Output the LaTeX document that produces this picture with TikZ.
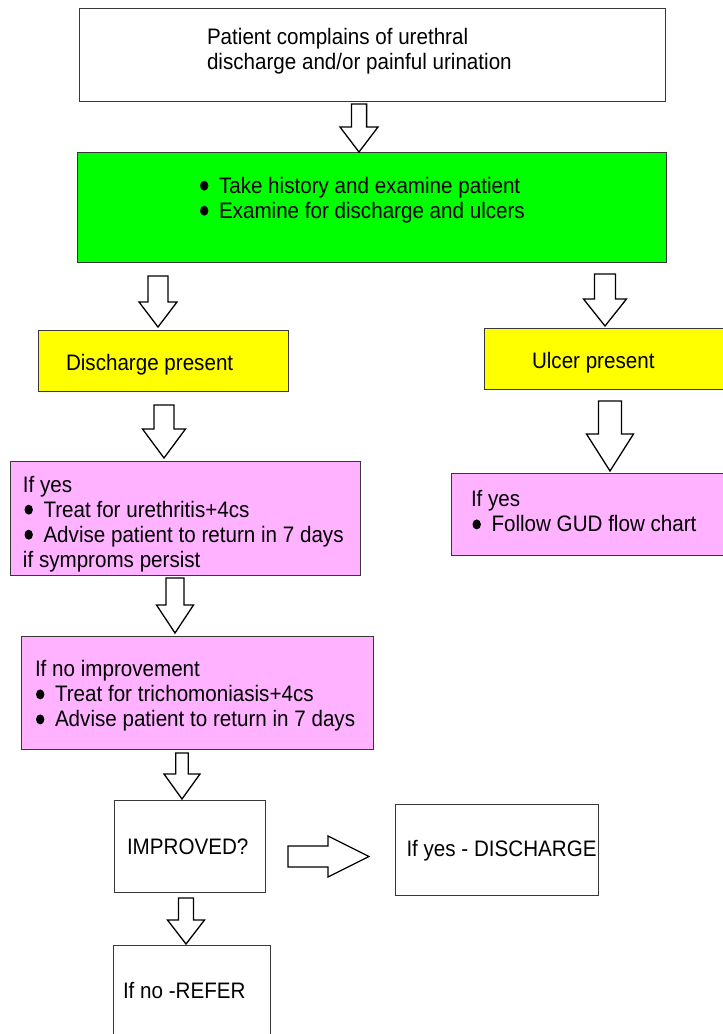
\documentclass[tikz,border=0pt]{standalone}
\usepackage{fontspec}
\setmainfont{Liberation Sans}[FakeStretch=0.92]
\usetikzlibrary{calc}

\definecolor{boxgreen}{RGB}{0,255,0}
\definecolor{boxyellow}{RGB}{255,255,0}
\definecolor{boxpink}{RGB}{255,178,255}
\definecolor{edge}{RGB}{55,55,55}

% round bullet used in the item lines
\newcommand\bul{\tikz[baseline=0pt]\fill (0pt,7.3pt) ellipse [x radius=4.2pt,y radius=5pt];\hspace{10.6pt}}

% hollow block arrow pointing down
% #1 source, #2 target, #3 x, #4 top gap, #5 bottom gap, #6 shaft half width, #7 head half width, #8 head length
\newcommand\arrowdown[8]{%
  \coordinate (ad-a) at (#3,0 |- #1.south);
  \coordinate (ad-b) at (#3,0 |- #2.north);
  \draw[blockarrow]
    ([xshift=-#6pt,yshift=-#4pt]ad-a) -- ([xshift=#6pt,yshift=-#4pt]ad-a)
    -- ([xshift=#6pt,yshift=#5pt+#8pt]ad-b) -- ([xshift=#7pt,yshift=#5pt+#8pt]ad-b)
    -- ([yshift=#5pt]ad-b) -- ([xshift=-#7pt,yshift=#5pt+#8pt]ad-b)
    -- ([xshift=-#6pt,yshift=#5pt+#8pt]ad-b) -- cycle;
}
% hollow block arrow pointing right
% #1 source, #2 target, #3 y, #4 left gap, #5 right gap, #6 shaft half width, #7 head half width, #8 head length
\newcommand\arrowright[8]{%
  \coordinate (ar-a) at (#1.east |- 0,#3);
  \coordinate (ar-b) at (#2.west |- 0,#3);
  \draw[blockarrow]
    ([xshift=#4pt,yshift=#6pt]ar-a) -- ([xshift=#4pt,yshift=-#6pt]ar-a)
    -- ([xshift=-#5pt-#8pt,yshift=-#6pt]ar-b) -- ([xshift=-#5pt-#8pt,yshift=-#7pt]ar-b)
    -- ([xshift=-#5pt]ar-b) -- ([xshift=-#5pt-#8pt,yshift=#7pt]ar-b)
    -- ([xshift=-#5pt-#8pt,yshift=#6pt]ar-b) -- cycle;
}

\begin{document}
\begin{tikzpicture}[x=1pt,y=-1pt,
  box/.style={draw=edge,line width=1pt,inner sep=0pt,outer sep=0pt},
  txt/.style={anchor=base west,inner sep=0pt,outer sep=0pt,font=\fontsize{22.4}{25}\selectfont},
  blockarrow/.style={draw=black,fill=white,line width=1.3pt,line join=miter}]
\fill[white] (0,0) rectangle (723,1034);
\clip (0,0) rectangle (723,1034);

% boxes
\node[box,fill=white,minimum width=586pt,minimum height=93pt] (b1) at (372,54.5) {};
\node[box,fill=boxgreen,minimum width=589pt,minimum height=110pt] (b2) at (371.5,207) {};
\node[box,fill=boxyellow,minimum width=250pt,minimum height=61pt] (b3) at (163,360.5) {};
\node[box,fill=boxyellow,minimum width=256pt,minimum height=61pt] (b4) at (612,358.5) {};
\node[box,fill=boxpink,minimum width=350pt,minimum height=114pt] (b5) at (185,518) {};
\node[box,fill=boxpink,minimum width=289pt,minimum height=82pt] (b6) at (595.5,514) {};
\node[box,fill=boxpink,minimum width=352pt,minimum height=113pt] (b7) at (197,692.5) {};
\node[box,fill=white,minimum width=151pt,minimum height=92pt] (b8) at (189.5,846) {};
\node[box,fill=white,minimum width=203pt,minimum height=91pt] (b9) at (496.5,849.5) {};
\node[box,fill=white,minimum width=157pt,minimum height=100pt] (b10) at (191.5,995) {};

% texts
\node[txt] (t1a) at (207,44) {Patient complains of urethral};
\node[txt] (t1b) at (207,69) {discharge and/or painful urination};
\node[txt] (t2a) at (200,193) {\bul Take history and examine patient};
\node[txt] (t2b) at (200,218) {\bul Examine for discharge and ulcers};
\node[txt] (t3) at (66,370) {Discharge present};
\node[txt] (t4) at (532,368.3) {Ulcer present};
\node[txt] (t5a) at (23,492) {If yes};
\node[txt] (t5b) at (24.5,517) {\bul Treat for urethritis+4cs};
\node[txt] (t5c) at (24.5,542) {\bul Advise patient to return in 7 days};
\node[txt] (t5d) at (23,567) {if symproms persist};
\node[txt] (t6a) at (471,506.7) {If yes};
\node[txt] (t6b) at (472.5,531.7) {\bul Follow GUD flow chart};
\node[txt] (t7a) at (35,676.7) {If no improvement};
\node[txt] (t7b) at (36,701.7) {\bul Treat for trichomoniasis+4cs};
\node[txt] (t7c) at (36,726.7) {\bul Advise patient to return in 7 days};
\node[txt] (t8) at (127,854.3) {IMPROVED?};
\node[txt] (t9) at (406.5,856.7) {If yes - DISCHARGE};
\node[txt] (t10) at (123,998.3) {If no -REFER};

% arrows
\arrowdown{b1}{b2}{359}{3}{0}{7.6}{19}{25}
\arrowdown{b2}{b3}{158}{14}{3}{10}{19}{25}
\arrowdown{b2}{b4}{605}{12}{2}{10.5}{21.5}{27}
\arrowdown{b3}{b5}{164}{14}{3}{10}{21.5}{29}
\arrowdown{b4}{b6}{610}{12}{2}{11.5}{23.5}{37}
\arrowdown{b5}{b7}{175}{3}{3}{9}{18.5}{28}
\arrowdown{b7}{b8}{182}{4}{1}{6.2}{18}{25}
\arrowright{b8}{b9}{856.5}{23}{26}{10.5}{20.5}{41}
\arrowdown{b8}{b10}{186}{6}{1}{7.5}{18.5}{24}
\end{tikzpicture}
\end{document}
